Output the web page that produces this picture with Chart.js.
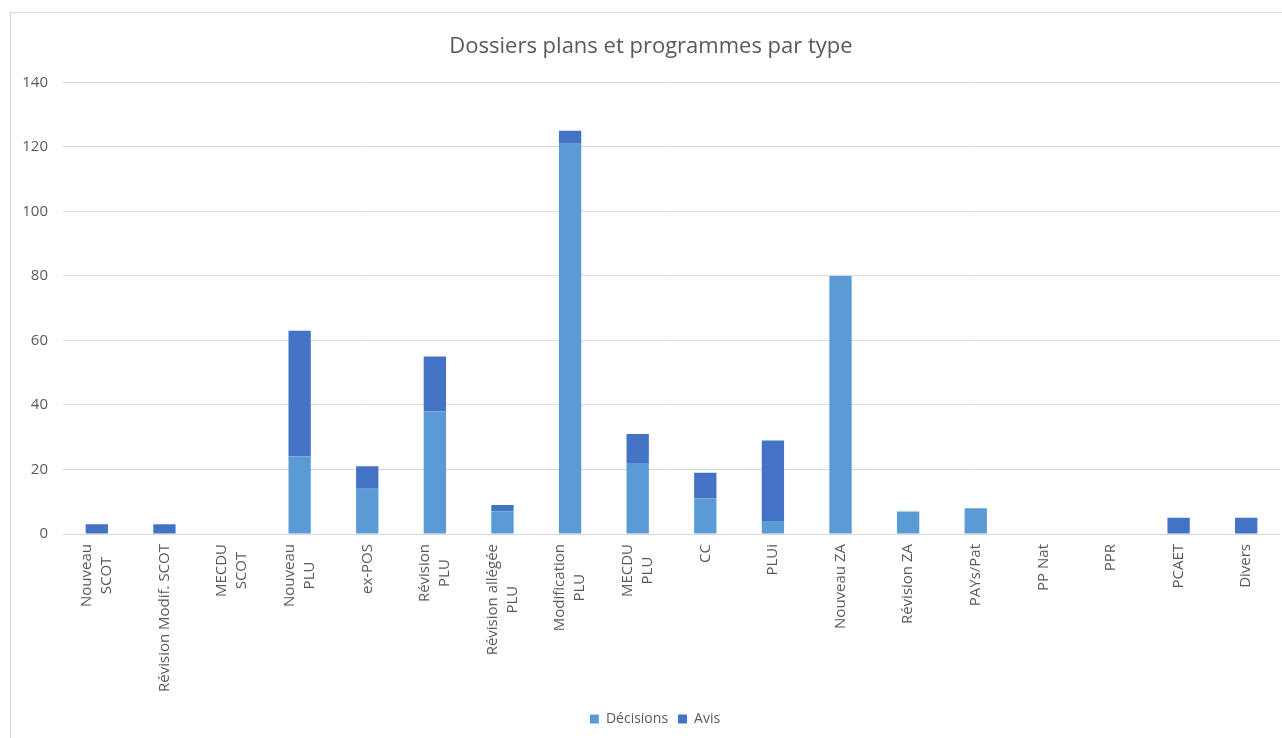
<!DOCTYPE html>
<html lang="fr">
<head>
<meta charset="utf-8">
<title>Dossiers plans et programmes par type</title>
<script src="https://cdn.jsdelivr.net/npm/chart.js@4.4.1/dist/chart.umd.min.js"></script>
<style>
  html, body { margin: 0; padding: 0; background: #ffffff; overflow: hidden; }
  #wrap { position: absolute; left: 0; top: 0; width: 1302px; height: 738px; }
</style>
</head>
<body>
<div id="wrap"><canvas id="chart" width="1302" height="738"></canvas></div>
<script>
// Types de dossiers (libellés sur une ou deux lignes)
const categories = [
  ["Nouveau", "SCOT"],
  ["Révision Modif. SCOT"],
  ["MECDU", "SCOT"],
  ["Nouveau", "PLU"],
  ["ex-POS"],
  ["Révision", "PLU"],
  ["Révision allégée", "PLU"],
  ["Modification", "PLU"],
  ["MECDU", "PLU"],
  ["CC"],
  ["PLUi"],
  ["Nouveau ZA"],
  ["Révision ZA"],
  ["PAYs/Pat"],
  ["PP Nat"],
  ["PPR"],
  ["PCAET"],
  ["Divers"]
];

const decisions = [0, 0, 0, 24, 14, 38, 7, 121, 22, 11, 4, 80, 7, 8, 0, 0, 0, 0];
const avis      = [3, 3, 0, 39, 7, 17, 2, 4, 9, 8, 25, 0, 0, 0, 0, 0, 5, 5];

const yTicks = [0, 20, 40, 60, 80, 100, 120, 140];

const TEXT = '#595959';
const GRID = '#d9d9d9';
const FONT = "'Open Sans', 'Noto Sans', sans-serif";

// Cadre gris clair autour du graphique
const frame = {
  id: 'frame',
  beforeDraw(chart) {
    const ctx = chart.ctx;
    ctx.save();
    ctx.fillStyle = '#ffffff';
    ctx.fillRect(0, 0, chart.width, chart.height);
    ctx.strokeStyle = GRID;
    ctx.lineWidth = 1;
    ctx.strokeRect(10.5, 12.5, chart.width + 20, chart.height + 20);
    ctx.restore();
  }
};

// Titre et légende centrés sur toute la largeur du cadre
const centerBoxes = {
  id: 'centerBoxes',
  afterLayout(chart) {
    if (chart.legend) {
      chart.legend.left += 15;
      chart.legend.right += 15;
    }
    if (chart.titleBlock) {
      chart.titleBlock.left += 11;
      chart.titleBlock.right += 11;
    }
  }
};

// Libellés verticaux de l'axe des catégories, lignes centrées entre elles
const verticalLabels = {
  id: 'verticalLabels',
  afterDraw(chart) {
    const xs = chart.scales.x;
    const ctx = chart.ctx;
    const lineH = 20;
    ctx.save();
    ctx.font = '15px ' + FONT;
    ctx.fillStyle = TEXT;
    ctx.textBaseline = 'middle';
    ctx.textAlign = 'center';
    const top = xs.top + 10;
    categories.forEach((lines, i) => {
      const x = xs.getPixelForValue(i);
      const maxW = Math.max(...lines.map(l => ctx.measureText(l).width));
      ctx.save();
      ctx.translate(x, top);
      ctx.rotate(-Math.PI / 2);
      lines.forEach((l, k) => {
        const off = (k - (lines.length - 1) / 2) * lineH;
        ctx.fillText(l, -maxW / 2, off);
      });
      ctx.restore();
    });
    ctx.restore();
  }
};

new Chart(document.getElementById('chart'), {
  type: 'bar',
  data: {
    labels: categories,
    datasets: [
      { label: 'Décisions', data: decisions, backgroundColor: '#5B9BD5' },
      { label: 'Avis', data: avis, backgroundColor: '#4472C4' }
    ]
  },
  options: {
    responsive: false,
    animation: false,
    layout: { padding: { left: 0, right: 22, top: 0, bottom: 2 } },
    datasets: { bar: { categoryPercentage: 1, barPercentage: 0.33 } },
    scales: {
      x: {
        stacked: true,
        grid: { display: false },
        border: { display: false },
        ticks: { display: false },
        afterFit(scale) { scale.height = 168; }
      },
      y: {
        stacked: true,
        min: 0,
        max: 140,
        afterBuildTicks(scale) { scale.ticks = yTicks.map(v => ({ value: v })); },
        afterFit(scale) { scale.width = 63; },
        grid: { color: GRID, drawTicks: false, lineWidth: 1 },
        border: { display: false },
        ticks: { color: TEXT, padding: 15, font: { family: FONT, size: 15 } }
      }
    },
    plugins: {
      title: {
        display: true,
        text: 'Dossiers plans et programmes par type',
        color: TEXT,
        font: { family: FONT, size: 22, weight: 'normal' },
        padding: { top: 34, bottom: 22 }
      },
      legend: {
        position: 'bottom',
        labels: {
          color: TEXT,
          font: { family: FONT, size: 14 },
          boxWidth: 9,
          boxHeight: 9,
          padding: 10
        }
      },
      tooltip: { enabled: false }
    }
  },
  plugins: [frame, centerBoxes, verticalLabels]
});
</script>
</body>
</html>
